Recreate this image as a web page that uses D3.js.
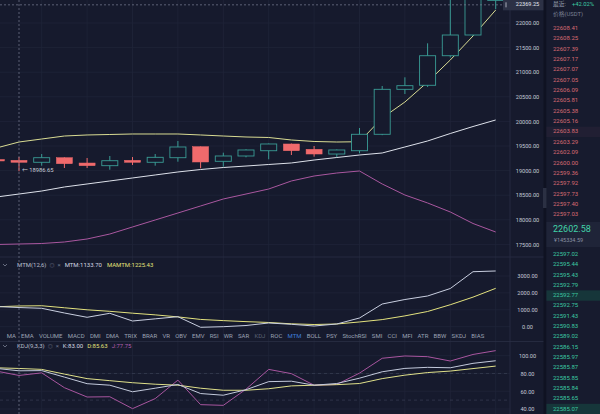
<!DOCTYPE html>
<html><head><meta charset="utf-8">
<script src="https://cdn.jsdelivr.net/npm/d3@7"></script>
<style>
html,body{margin:0;padding:0;background:#161a2d;overflow:hidden;}
svg{display:block;font-family:Roboto,"Noto Sans CJK SC",sans-serif;}
</style></head><body>
<svg id="c" width="600" height="414"></svg>
<script>
// ---------- data ----------
const candleIdx = d3.range(-1, 22);
const openP  = [19226,19209,19169,19262,19154,19100,19209,19169,19262,19486,19189,19297,19404,19541,19433,19337,19404,19738,20652,20734,21335,21756,22460];
const closeP = [19196,19169,19262,19140,19100,19201,19169,19270,19480,19175,19297,19419,19541,19404,19337,19419,19738,20652,20726,21335,21756,22600,22600];
const highP  = [19240,19276,19337,19270,19256,19297,19276,19337,19602,19490,19364,19433,19550,19550,19500,19430,19866,20720,20896,21587,22500,22700,22700];
const lowP   = [19180,18986.65,19100,19053,19053,19018,19114,19100,19181,19047,19079,19270,19230,19317,19283,19276,19352,19720,20557,20700,21300,21740,22280];
const maYellow = [19459,19581,19642,19703,19724,19734,19744,19744,19744,19724,19703,19683,19673,19622,19592,19581,19587,20069,20394,20801,21248,21736,22264];
const maWhite  = [18463,18524,18585,18667,18728,18789,18850,18911,18972,19022,19063,19093,19124,19155,19215,19266,19317,19358,19480,19602,19754,19896,20029];
const maPurple = [17498,17508,17518,17549,17610,17711,17854,17996,18138,18281,18423,18524,18626,18789,18890,18951,18992,18728,18504,18342,18159,17925,17752];
const mtmVals   = [1195,1133.70,1089,811,556,793,337,465,592,-35,0,71,219,142,41,160,515,1343,1609,1817,2260,3254,3296];
const mamtmVals = [1180,1225.43,1240,1120,1000,910,800,700,580,430,360,300,250,170,130,160,280,420,640,900,1300,1750,2270];
const kVals = [85.7,83.00,83.2,75.9,68.5,66.8,59.4,63.4,67.6,57.4,55.5,61.7,70.8,71.3,66.8,68.7,74.7,81.9,85.7,86.9,86.4,91.4,94.3];
const dVals = [86.4,85.63,84.6,79.3,74.2,71.9,69.6,67.9,66.8,63.4,61.1,61.1,62.8,66.0,66.8,67.4,68.7,74.2,78.1,81.0,82.7,85.5,88.3];
const jVals = [82.7,77.75,80.7,64.0,53.5,53.8,40.4,51.7,72.5,44.9,44.1,62.3,84.6,79.8,66.8,67.6,80.4,97.1,99.7,98.9,94.0,101.4,105.7];
const priceTicks = [17500,18000,18500,19000,19500,20000,20500,21000,21500,22000];
const mtmTicks = [0,1000,2000,3000];
const kdjTicks = [40,60,80,100];
const crossPrice = 22369.25;
const lowLabel = 18986.65;
const tabNames = ["MA","EMA","VOLUME","MACD","DMI","DMA","TRIX","BRAR","VR","OBV","EMV","RSI","WR","SAR","KDJ","ROC","MTM","BOLL","PSY","StochRSI","SMI","CCI","MFI","ATR","BBW","SKDJ","BIAS"];
const askPrices = ["22608.41","22608.25","22607.39","22607.17","22607.07","22607.05","22606.09","22605.81","22605.38","22605.16","22603.83","22603.29","22602.09","22600.00","22599.36","22597.92","22597.73","22597.40","22597.03"];
const bidPrices = ["22597.02","22595.44","22595.43","22592.79","22592.77","22592.75","22591.43","22590.83","22589.02","22586.15","22585.97","22585.87","22585.85","22585.84","22585.65","22585.07"];
const lastPrice = "22602.58";
const lastCny = "¥145334.59";

// ---------- setup ----------
const svg = d3.select("#c");
const C = {bg:"#161a2d", grid:"#1f2438", teal:"#3a9c95", red:"#f06a6c", yellow:"#d9dc93", white:"#dde1ea",
  purple:"#a9579f", axis:"#c3c8d4", dim:"#7b8195", green:"#3cc9a2", askRed:"#d86a72"};
svg.append("rect").attr("width",600).attr("height",414).attr("fill",C.bg);

const x = d3.scaleLinear().domain([0,21]).range([19,495.7]);
const yP = d3.scaleLinear().domain([17500,22000]).range([244.4,23]);
const yM = d3.scaleLinear().domain([0,3000]).range([326.7,276]);
const yK = d3.scaleLinear().domain([40,100]).range([409,355.7]);
const step = x(1)-x(0), bw = step*0.75;

const defs = svg.append("defs");
defs.append("clipPath").attr("id","cm").append("rect").attr("x",0).attr("y",0).attr("width",510).attr("height",256);
defs.append("clipPath").attr("id","cmt").append("rect").attr("x",0).attr("y",270).attr("width",510).attr("height",62);
defs.append("clipPath").attr("id","ck").append("rect").attr("x",0).attr("y",342).attr("width",510).attr("height",72);

// grid
const gGrid = svg.append("g").attr("stroke",C.grid).attr("stroke-width",0.8);
d3.range(1,22,2).forEach(i=>{
  gGrid.append("line").attr("x1",x(i)).attr("x2",x(i)).attr("y1",0).attr("y2",414);
});
priceTicks.forEach(v=>gGrid.append("line").attr("x1",0).attr("x2",510).attr("y1",yP(v)).attr("y2",yP(v)));
mtmTicks.forEach(v=>gGrid.append("line").attr("x1",0).attr("x2",510).attr("y1",yM(v)).attr("y2",yM(v)));
kdjTicks.forEach(v=>gGrid.append("line").attr("x1",0).attr("x2",510).attr("y1",yK(v)).attr("y2",yK(v)));
[80,50].forEach(v=>svg.append("line").attr("x1",0).attr("x2",510).attr("y1",yK(v)).attr("y2",yK(v))
  .attr("stroke","#3a3f55").attr("stroke-width",0.7).attr("stroke-dasharray","3,3"));

// separators
svg.append("line").attr("x1",510).attr("x2",510).attr("y1",0).attr("y2",414).attr("stroke","#2a2f44").attr("stroke-width",0.8);
svg.append("line").attr("x1",0).attr("x2",545).attr("y1",257).attr("y2",257).attr("stroke","#2a2f44").attr("stroke-width",0.8);
svg.append("line").attr("x1",0).attr("x2",545).attr("y1",341.5).attr("y2",341.5).attr("stroke","#2a2f44").attr("stroke-width",0.8);

// ---------- main chart ----------
const gMain = svg.append("g").attr("clip-path","url(#cm)");
const lineP = d3.line().x((d,i)=>x(candleIdx[i])).y(d=>yP(d));
[[maPurple,C.purple],[maWhite,C.white],[maYellow,C.yellow]].forEach(([arr,col])=>{
  gMain.append("path").attr("d",lineP(arr)).attr("fill","none").attr("stroke",col).attr("stroke-width",1);
});
candleIdx.forEach((ci,i)=>{
  const up = closeP[i]>=openP[i];
  const col = up?C.teal:C.red;
  const cx = x(ci);
  gMain.append("line").attr("x1",cx).attr("x2",cx).attr("y1",yP(highP[i])).attr("y2",yP(lowP[i])).attr("stroke",col).attr("stroke-width",1);
  const top = yP(Math.max(openP[i],closeP[i])), bot = yP(Math.min(openP[i],closeP[i]));
  gMain.append("rect").attr("x",cx-bw/2+0.5).attr("y",top).attr("width",bw-1).attr("height",Math.max(1.5,bot-top))
    .attr("fill",up?C.bg:C.red).attr("stroke",col).attr("stroke-width",up?0.9:0.5);
});
// low label
svg.append("text").attr("x",x(0)+3).attr("y",yP(lowLabel)-1).attr("font-size",5.8).attr("fill","#c9cdd8")
  .attr("dominant-baseline","middle").text("← " + lowLabel.toFixed(2));

// price axis
const axP = svg.append("g").attr("transform","translate(527.5,0)")
  .call(d3.axisRight(yP).tickValues(priceTicks).tickSize(0).tickFormat(d=>d.toFixed(2)));
const axM = svg.append("g").attr("transform","translate(527.5,0)")
  .call(d3.axisRight(yM).tickValues(mtmTicks).tickSize(0).tickFormat(d=>d.toFixed(2)));
const axK = svg.append("g").attr("transform","translate(527.5,0)")
  .call(d3.axisRight(yK).tickValues(kdjTicks).tickSize(0).tickFormat(d=>d.toFixed(2)));
[axP,axM,axK].forEach(g=>{
  g.select(".domain").remove();
  g.selectAll("text").attr("x",0).attr("dx",0).attr("text-anchor","middle").attr("fill",C.axis)
    .attr("font-size",5.6).attr("font-family","Roboto");
});

// ---------- MTM panel ----------
const gM = svg.append("g").attr("clip-path","url(#cmt)");
const lineM = d3.line().x((d,i)=>x(candleIdx[i])).y(d=>yM(d));
gM.append("path").attr("d",lineM(mamtmVals)).attr("fill","none").attr("stroke","#e3e27e").attr("stroke-width",1);
gM.append("path").attr("d",lineM(mtmVals)).attr("fill","none").attr("stroke","#c9cfe0").attr("stroke-width",1);

function legend(y, items){
  svg.append("path").attr("d",`M3,${y-1.5} L5,${y+0.5} L7,${y-1.5}`).attr("fill","none").attr("stroke","#8a90a3").attr("stroke-width",0.7);
  let cx = 17;
  items.forEach(it=>{
    const t = svg.append("text").attr("x",cx).attr("y",y).attr("dominant-baseline","middle")
      .attr("font-size",it.fs||6).attr("fill",it.c).text(it.t);
    cx += t.node().getComputedTextLength() + (it.gap||4);
  });
}
legend(265.5,[{t:"MTM(12,6)",c:"#b9bfcc",gap:3},{t:"◎",c:"#6f7589",fs:5,gap:3},{t:"×",c:"#6f7589",gap:4},
  {t:"MTM:"+mtmVals[1].toFixed(2),c:"#d4d8e2",gap:5},{t:"MAMTM:"+mamtmVals[1].toFixed(2),c:"#e3e07a"}]);

// tabs
let tx = 6.7;
tabNames.forEach(n=>{
  const col = n==="MTM" ? "#3f7fd8" : (n==="KDJ" ? "#5c6275" : "#9ba2b4");
  const t = svg.append("text").attr("x",tx).attr("y",336).attr("dominant-baseline","middle")
    .attr("font-size",6).attr("fill",col).text(n);
  tx += t.node().getComputedTextLength() + 5.2;
});

// ---------- KDJ panel ----------
const gK = svg.append("g").attr("clip-path","url(#ck)");
const lineK = d3.line().x((d,i)=>x(candleIdx[i])).y(d=>yK(d));
gK.append("path").attr("d",lineK(jVals)).attr("fill","none").attr("stroke","#a8559f").attr("stroke-width",1);
gK.append("path").attr("d",lineK(dVals)).attr("fill","none").attr("stroke","#dfe08a").attr("stroke-width",1);
gK.append("path").attr("d",lineK(kVals)).attr("fill","none").attr("stroke","#c3cadc").attr("stroke-width",1);
legend(346.5,[{t:"KDJ(9,3,3)",c:"#b9bfcc",gap:3},{t:"◎",c:"#6f7589",fs:5,gap:3},{t:"×",c:"#6f7589",gap:4},
  {t:"K:"+kVals[1].toFixed(2),c:"#d4d8e2",gap:4},{t:"D:"+dVals[1].toFixed(2),c:"#e3e07a",gap:4},{t:"J:"+jVals[1].toFixed(2),c:"#b25fb0"}]);

// ---------- crosshair ----------
svg.append("line").attr("x1",x(0)).attr("x2",x(0)).attr("y1",0).attr("y2",414)
  .attr("stroke","#7a7f93").attr("stroke-width",0.7).attr("stroke-dasharray","2,2");
svg.append("line").attr("x1",0).attr("x2",503).attr("y1",yP(crossPrice)).attr("y2",yP(crossPrice))
  .attr("stroke","#7a7f93").attr("stroke-width",0.7).attr("stroke-dasharray","2,2");
svg.append("rect").attr("x",503).attr("y",yP(crossPrice)-6).attr("width",41).attr("height",11.5).attr("fill","#2c3145");
svg.append("line").attr("x1",506).attr("x2",506).attr("y1",yP(crossPrice)-2.5).attr("y2",yP(crossPrice)+2.5).attr("stroke","#c8ccd8").attr("stroke-width",0.8);
svg.append("text").attr("x",527.5).attr("y",yP(crossPrice)).attr("text-anchor","middle").attr("dominant-baseline","middle")
  .attr("font-size",5.6).attr("fill","#e4e7ef").text(crossPrice.toFixed(2));

// ---------- order book ----------
svg.append("rect").attr("x",543.5).attr("y",0).attr("width",3).attr("height",414).attr("fill","#0f1222");
svg.append("rect").attr("x",546.5).attr("y",0).attr("width",54).attr("height",414).attr("fill","#171b2e");
svg.append("rect").attr("x",543).attr("y",188).attr("width",3.5).attr("height",20).attr("fill","#2b3043");
const yAsk = d3.scaleLinear().domain([0,askPrices.length-1]).range([28.3,214.7]);
const yBid = d3.scaleLinear().domain([0,bidPrices.length-1]).range([254.3,409]);
const rowH = yAsk(1)-yAsk(0);
svg.append("rect").attr("x",546.5).attr("y",yAsk(10)-rowH/2).attr("width",54).attr("height",rowH).attr("fill","#211f33");
[4,15].forEach(i=>svg.append("rect").attr("x",546.5).attr("y",yBid(i)-rowH/2).attr("width",54).attr("height",rowH).attr("fill","#16363a"));
svg.append("rect").attr("x",546.5).attr("y",222).attr("width",54).attr("height",25).attr("fill","#1f2438");
svg.append("text").attr("x",553).attr("y",4).attr("dominant-baseline","middle").attr("font-size",5.8).attr("fill","#9aa0b2").text("最近:");
svg.append("text").attr("x",572).attr("y",4).attr("dominant-baseline","middle").attr("font-size",5.8).attr("fill",C.green).text("+42.02%");
svg.append("text").attr("x",553).attr("y",14).attr("dominant-baseline","middle").attr("font-size",5.8).attr("fill","#7b8195").text("价格(USDT)");
askPrices.forEach((p,i)=>svg.append("text").attr("x",553).attr("y",yAsk(i)).attr("dominant-baseline","middle")
  .attr("font-size",6).attr("fill",C.askRed).text(p));
bidPrices.forEach((p,i)=>svg.append("text").attr("x",553).attr("y",yBid(i)).attr("dominant-baseline","middle")
  .attr("font-size",6).attr("fill",C.green).text(p));
svg.append("text").attr("x",553).attr("y",230).attr("dominant-baseline","middle").attr("font-size",9).attr("fill","#41d3a8").text(lastPrice);
svg.append("text").attr("x",554).attr("y",240.5).attr("dominant-baseline","middle").attr("font-size",5.5).attr("fill","#8a90a3").text(lastCny);
</script>
</body></html>
